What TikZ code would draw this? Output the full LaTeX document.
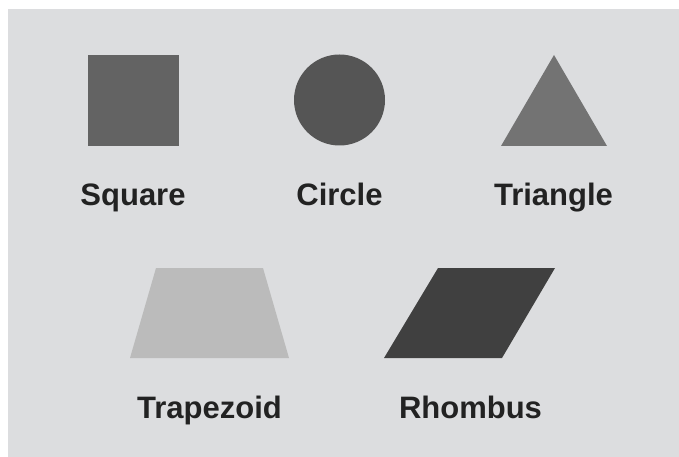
\documentclass[tikz,border=0pt]{standalone}
\usepackage{fontspec}
\setmainfont{Liberation Sans}
\usepackage{xcolor}
\usepackage{tikz}
\usetikzlibrary{positioning}
\definecolor{shpbg}{HTML}{DCDDDF}
\definecolor{shpsquare}{HTML}{636363}
\definecolor{shpcircle}{HTML}{555555}
\definecolor{shptri}{HTML}{737373}
\definecolor{shptrap}{HTML}{BBBBBB}
\definecolor{shprhomb}{HTML}{404040}
\definecolor{shptext}{HTML}{222222}
\tikzset{
  shplabel/.style={anchor=base, inner sep=0pt, text=shptext, font=\fontsize{31}{31}\selectfont\bfseries},
  shpfill/.style={draw=none}
}

\begin{document}
\begin{tikzpicture}[x=1pt, y=-1pt]
\useasboundingbox (0,0) rectangle (679,457);
\fill[shpbg] (8,9) rectangle (679,457);

% top row
\fill[shpfill, shpsquare] (88,55) rectangle (179,146);
\node[shplabel] (sqlabel) at (133,205) {Square};
\fill[shpfill, shpcircle] (339.5,100) circle[radius=45.5];
\node[shplabel] (cirlabel) at (339.5,205) {Circle};
\fill[shpfill, shptri] (554,55) -- (607,146) -- (501,146) -- cycle;
\node[shplabel] (trilabel) at (553.5,205) {Triangle};

% bottom row
\fill[shpfill, shptrap] (156,268) -- (263,268) -- (289,358) -- (130,358) -- cycle;
\node[shplabel] (traplabel) at (209.5,418) {Trapezoid};
\fill[shpfill, shprhomb] (438,268) -- (555,268) -- (502,358) -- (384,358) -- cycle;
\node[shplabel] (rhomblabel) at (470.5,418) {Rhombus};
\end{tikzpicture}
\end{document}
